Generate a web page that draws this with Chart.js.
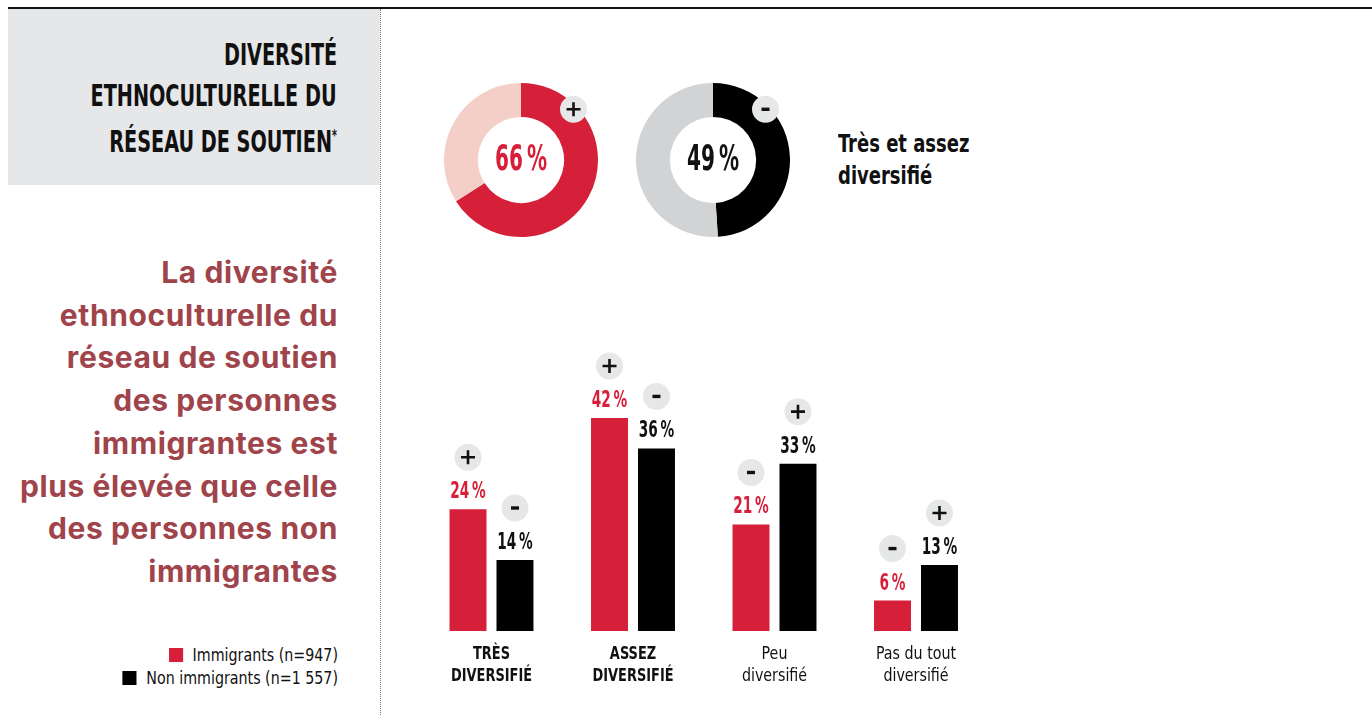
<!DOCTYPE html>
<html lang="fr">
<head>
<meta charset="utf-8">
<script src="https://cdn.jsdelivr.net/npm/chart.js@4.4.1/dist/chart.umd.min.js"></script>
<style>
  html, body { margin: 0; padding: 0; background: #fff; }
  body { width: 1372px; height: 715px; position: relative; overflow: hidden; }
  .narrow { font-family: "Liberation Sans Narrow", "DejaVu Sans Condensed", sans-serif; }
  #topline { position: absolute; left: 8px; right: 0; top: 7px; height: 2px; background: #111; }
  #titlebox { position: absolute; left: 8px; top: 9px; width: 372px; height: 176px; background: #e6e7e8; }
  #divider { position: absolute; left: 380px; top: 9px; height: 706px; border-left: 1px dotted #777; }
  #title { position: absolute; left: 0; width: 337px; top: 34px; display: flex; flex-direction: column; align-items: flex-end;
           font-weight: bold; font-size: 31px; line-height: 41px; color: #111; }
  #title span { display: block; transform: scaleX(0.69); transform-origin: right center; white-space: nowrap; }
  #subtitle { position: absolute; left: 0; width: 338px; top: 251px; text-align: right;
              font-family: Inter, "Liberation Sans", sans-serif; font-weight: 700; font-size: 30px;
              line-height: 42.7px; color: #a0444c; letter-spacing: 0.6px; white-space: nowrap; }
  #legend { position: absolute; left: 0; width: 338px; top: 643px; text-align: right; font-size: 18px; line-height: 23px; color: #111; }
  #legend .row { transform: scaleX(0.88); transform-origin: right center; white-space: nowrap; }
  #legend .sw { display: inline-block; width: 16px; height: 14px; margin-right: 11px; vertical-align: -1px; }
  #note { position: absolute; left: 838px; top: 128px; font-weight: bold; font-size: 25px; line-height: 32px; color: #111; }
  #note span { display: inline-block; transform: scaleX(0.8); transform-origin: left center; white-space: nowrap; }
  canvas { position: absolute; }
</style>
</head>
<body>
<div id="topline"></div>
<div id="titlebox"></div>
<div id="divider"></div>
<div id="title" class="narrow"><span>DIVERSITÉ</span><span>ETHNOCULTURELLE DU</span><span>RÉSEAU DE SOUTIEN<sup style="font-size:15px">*</sup></span></div>
<div id="subtitle">La diversité<br>ethnoculturelle du<br>réseau de soutien<br>des personnes<br>immigrantes est<br>plus élevée que celle<br>des personnes non<br>immigrantes</div>
<div id="legend" class="narrow"></div>
<div id="note" class="narrow"><span>Très et assez</span><br><span>diversifié</span></div>

<canvas id="donutImm" width="154" height="154" style="left:444px;top:83px"></canvas>
<canvas id="donutNon" width="154" height="154" style="left:636px;top:83px"></canvas>
<canvas id="bars" width="1372" height="715" style="left:0;top:0"></canvas>

<script>
// ---- data ----
const seriesNames = ['Immigrants (n=947)', 'Non immigrants (n=1 557)'];
const categories = [['TRÈS', 'DIVERSIFIÉ'], ['ASSEZ', 'DIVERSIFIÉ'], ['Peu', 'diversifié'], ['Pas du tout', 'diversifié']];
const categoryBold = [true, true, false, false];
const immigrants = [24, 42, 21, 6];
const nonImmigrants = [14, 36, 33, 13];
const immigrantSigns = ['+', '+', '-', '-'];
const nonImmigrantSigns = ['-', '-', '+', '+'];
const donutImmigrants = [66, 34];
const donutNonImmigrants = [49, 51];
const donutSigns = ['+', '-'];

const RED = '#d61f38';
const PINK = '#f4cfc7';
const BLACK = '#000000';
const GREY = '#d1d3d4';
const BADGE = '#e6e7e8';
const NARROW = '"Liberation Sans Narrow", "DejaVu Sans Condensed", sans-serif';

Chart.defaults.devicePixelRatio = 1;
Chart.defaults.animation = false;

// legend (html)
const legend = document.getElementById('legend');
legend.innerHTML = seriesNames.map((n, i) =>
    '<div class="row"><span class="sw" style="background:' + (i === 0 ? RED : BLACK) + '"></span>' + n + '</div>'
).join('');

// condensed text helper
function drawText(ctx, text, x, y, font, color, align, sx) {
    ctx.save();
    ctx.font = font;
    ctx.fillStyle = color;
    ctx.textBaseline = 'middle';
    ctx.textAlign = align || 'center';
    ctx.translate(x, y);
    ctx.scale(sx || 1, 1);
    ctx.fillText(text, 0, 0);
    ctx.restore();
}

function drawBadge(ctx, x, y, sign) {
    ctx.save();
    ctx.fillStyle = BADGE;
    ctx.beginPath();
    ctx.arc(x, y, 13.5, 0, Math.PI * 2);
    ctx.fill();
    ctx.strokeStyle = '#111';
    ctx.beginPath();
    if (sign === '+') {
        ctx.lineWidth = 2.6;
        ctx.moveTo(x - 7, y); ctx.lineTo(x + 7, y);
        ctx.moveTo(x, y - 7); ctx.lineTo(x, y + 7);
    } else {
        ctx.lineWidth = 3.4;
        ctx.moveTo(x - 4, y); ctx.lineTo(x + 4, y);
    }
    ctx.stroke();
    ctx.restore();
}

// ---- donuts ----
const donutPlugin = {
    id: 'donutDeco',
    afterDraw(chart, args, opts) {
        const arc = chart.getDatasetMeta(0).data[0];
        const ctx = chart.ctx;
        const cx = arc.x, cy = arc.y;
        drawText(ctx, opts.value + '\u2009%', cx, cy + 1, 'bold 36px ' + NARROW, opts.color, 'center', 0.62);
        const a = -Math.PI / 2 + 46 * Math.PI / 180;
        const r = arc.outerRadius - 4;
        drawBadge(ctx, cx + r * Math.cos(a), cy + r * Math.sin(a), opts.sign);
    }
};

function makeDonut(id, values, colors, sign, textColor) {
    return new Chart(document.getElementById(id), {
        type: 'doughnut',
        data: { datasets: [{ data: values, backgroundColor: colors, borderWidth: 0 }] },
        options: {
            responsive: false,
            cutout: '56%',
            layout: { padding: 0 },
            plugins: {
                legend: { display: false },
                tooltip: { enabled: false },
                donutDeco: { value: values[0], sign: sign, color: textColor }
            },
            events: []
        },
        plugins: [donutPlugin]
    });
}

makeDonut('donutImm', donutImmigrants, [RED, PINK], donutSigns[0], RED);
makeDonut('donutNon', donutNonImmigrants, [BLACK, GREY], donutSigns[1], '#111');

// ---- bars ----
const barPlugin = {
    id: 'barDeco',
    afterDatasetsDraw(chart) {
        const ctx = chart.ctx;
        const signs = [immigrantSigns, nonImmigrantSigns];
        const colors = [RED, '#111'];
        chart.data.datasets.forEach((ds, di) => {
            chart.getDatasetMeta(di).data.forEach((bar, i) => {
                drawText(ctx, ds.data[i] + '\u2009%', bar.x, bar.y - 17, 'bold 23px ' + NARROW, colors[di], 'center', 0.66);
                drawBadge(ctx, bar.x, bar.y - 52, signs[di][i]);
            });
        });
        const xs = chart.scales.x;
        const base = chart.scales.y.getPixelForValue(0);
        categories.forEach((lines, i) => {
            const x = xs.getPixelForValue(i);
            const font = (categoryBold[i] ? 'bold ' : '') + '18px ' + NARROW;
            lines.forEach((t, li) => drawText(ctx, t, x, base + 23 + li * 22, font, '#111', 'center', categoryBold[i] ? 0.8 : 0.88));
        });
    }
};

new Chart(document.getElementById('bars'), {
    type: 'bar',
    data: {
        labels: categories.map(c => c.join(' ')),
        datasets: [
            { label: seriesNames[0], data: immigrants, backgroundColor: RED },
            { label: seriesNames[1], data: nonImmigrants, backgroundColor: BLACK }
        ]
    },
    options: {
        responsive: false,
        categoryPercentage: 0.664,
        barPercentage: 0.787,
        layout: { padding: { left: 420.75, right: 385.25, top: 326.7, bottom: 84 } },
        scales: {
            x: { display: false },
            y: { display: false, min: 0, max: 60 }
        },
        plugins: { legend: { display: false }, tooltip: { enabled: false } },
        events: []
    },
    plugins: [barPlugin]
});
</script>
</body>
</html>
